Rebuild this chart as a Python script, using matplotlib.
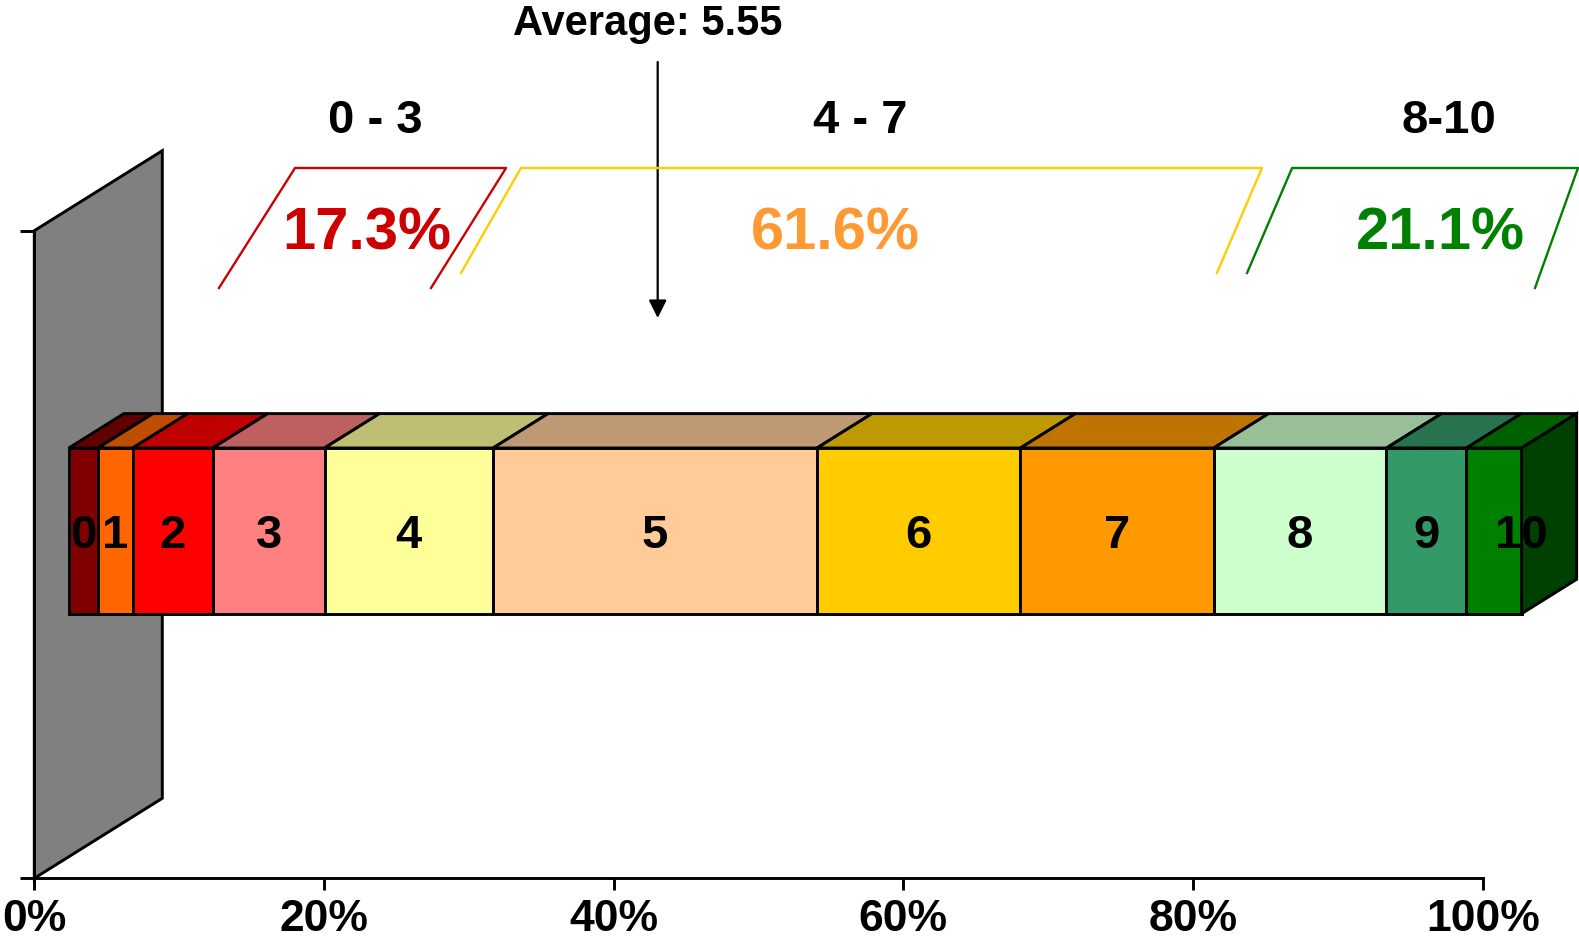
import numpy as np
import matplotlib.pyplot as plt
from matplotlib.patches import Polygon

plt.rcParams['font.family'] = ['Liberation Sans', 'DejaVu Sans']
plt.rcParams['font.weight'] = 'bold'

# --- data ---
scores = ['0', '1', '2', '3', '4', '5', '6', '7', '8', '9', '10']
shares = [2.0, 2.4, 5.5, 7.7, 11.6, 22.3, 14.0, 13.3, 11.9, 5.5, 3.8]
score_colors = ['#800000', '#FF6600', '#FF0000', '#FF8080', '#FFFF99', '#FFCC99',
                '#FFCC00', '#FF9900', '#CCFFCC', '#339966', '#008000']
group_names = ['0 - 3', '4 - 7', '8-10']
group_totals = [17.3, 61.6, 21.1]
group_text_colors = ['#CC0000', '#FF9933', '#008000']
group_line_colors = ['#CC0000', '#FFCC00', '#008000']
average_score = 5.55
x_ticks = [0, 20, 40, 60, 80, 100]

# --- layout (y axis runs in pixel-like units, x in percent) ---
Y_TOP = 878.3
PX_PER_PCT = 14.484
DX, DY = 128 / PX_PER_PCT, 80.0      # full depth of the 3D box
WALL_H = 647.6
D_FRONT, D_BACK = 0.27, 0.70         # depth range of the bar
BAR_SCALE = 1.003                    # bar face drawn slightly wider (perspective)
BAR_Y0, BAR_H = 243.0, 165.7
EDGE = 2.1


def proj(x, y, d):
    return (x * BAR_SCALE + d * DX, y + d * DY)


def shade(c, f):
    r, g, b = plt.matplotlib.colors.to_rgb(c)
    return (r * f, g * f, b * f)


fig = plt.figure(figsize=(15.79, 9.48), dpi=100)
ax = fig.add_axes([34.3 / 1579, (948 - Y_TOP) / 948, 1448.4 / 1579, Y_TOP / 948])
ax.set_xlim(0, 100)
ax.set_ylim(0, Y_TOP)

# back wall
wall = [(0, 0), (0, WALL_H), (DX, WALL_H + DY), (DX, DY)]
ax.add_patch(Polygon(wall, closed=True, facecolor='#808080', edgecolor='black',
                     lw=EDGE, joinstyle='miter', zorder=1, clip_on=False))

# stacked 3D bar
cum = np.concatenate([[0], np.cumsum(shares)])
y1 = BAR_Y0 + BAR_H
for i, col in enumerate(score_colors):
    l, r = cum[i], cum[i + 1]
    top = [proj(l, y1, D_FRONT), proj(r, y1, D_FRONT), proj(r, y1, D_BACK), proj(l, y1, D_BACK)]
    front = [proj(l, BAR_Y0, D_FRONT), proj(r, BAR_Y0, D_FRONT),
             proj(r, y1, D_FRONT), proj(l, y1, D_FRONT)]
    ax.add_patch(Polygon(top, closed=True, facecolor=shade(col, 0.75),
                         edgecolor='black', lw=EDGE, zorder=2, clip_on=False))
    ax.add_patch(Polygon(front, closed=True, facecolor=col,
                         edgecolor='black', lw=EDGE, zorder=3, clip_on=False))
    if i == len(score_colors) - 1:
        side = [proj(r, BAR_Y0, D_FRONT), proj(r, y1, D_FRONT),
                proj(r, y1, D_BACK), proj(r, BAR_Y0, D_BACK)]
        ax.add_patch(Polygon(side, closed=True, facecolor=shade(col, 0.5),
                             edgecolor='black', lw=EDGE, zorder=3, clip_on=False))

# score labels on the front faces
fs_num = 34
yc = BAR_Y0 + D_FRONT * DY + BAR_H / 2
base = yc - 0.716 * fs_num * 100 / 72 / 2
for i, s in enumerate(scores):
    xc = proj((cum[i] + cum[i + 1]) / 2, 0, D_FRONT)[0]
    if i == len(scores) - 1:
        xc = (proj(cum[i], 0, D_FRONT)[0] + proj(cum[i + 1], 0, D_BACK)[0]) / 2
    ax.text(xc, base, s, ha='center', va='baseline', fontsize=fs_num, zorder=5,
            clip_on=False)

# group brackets and totals
brackets = [
    ([12.75, 18.00, 32.57, 27.39], [590.3, 710.3, 710.3, 590.3]),
    ([29.46, 33.60, 84.76, 81.65], [605.3, 710.3, 710.3, 605.3]),
    ([83.73, 86.84, 106.58, 103.61], [605.3, 710.3, 710.3, 590.3]),
]
name_x = [23.52, 57.01, 97.70]
pct_x = [22.97, 55.28, 97.09]
for g in range(len(group_names)):
    bx, by = brackets[g]
    ax.plot(bx, by, color=group_line_colors[g], lw=1.7, clip_on=False, zorder=4)
    ax.text(name_x[g], Y_TOP - 133, group_names[g], ha='center', va='baseline',
            fontsize=34, color='black')
    ax.text(pct_x[g], Y_TOP - 250, f'{group_totals[g]:.1f}%', ha='center', va='baseline',
            fontsize=43, color=group_text_colors[g], clip_on=False)

# average marker
ax.annotate('', xy=(43.04, Y_TOP - 318), xytext=(43.04, Y_TOP - 62),
            arrowprops=dict(arrowstyle='-|>', color='black', lw=1.6,
                            mutation_scale=27, shrinkA=0, shrinkB=0),
            annotation_clip=False)
ax.text(42.33, Y_TOP - 35, f'Average: {average_score:.2f}', ha='center', va='baseline',
        fontsize=30)

# axes
for side in ['top', 'right']:
    ax.spines[side].set_visible(False)
ax.spines['bottom'].set_bounds(0, 100)
ax.spines['left'].set_bounds(0, WALL_H)
ax.spines['bottom'].set_linewidth(EDGE)
ax.spines['left'].set_linewidth(EDGE)
ax.set_xticks(x_ticks, labels=[f'{t}%' for t in x_ticks])
ax.set_yticks([0, WALL_H], labels=['', ''])
ax.tick_params(axis='x', length=8.6, width=EDGE, pad=6, labelsize=32)
ax.tick_params(axis='y', length=10, width=EDGE)
ax.set_facecolor('none')

fig.savefig('out.png', dpi=100, facecolor='white')
